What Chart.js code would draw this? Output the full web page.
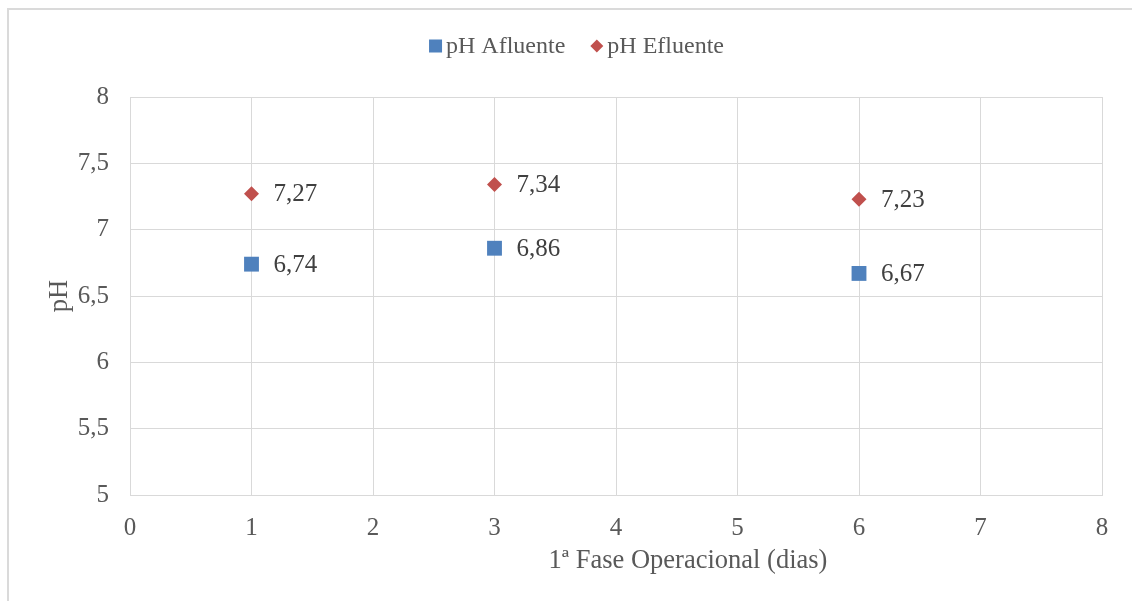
<!DOCTYPE html>
<html>
<head>
<meta charset="utf-8">
<script src="https://cdn.jsdelivr.net/npm/chart.js@4.4.1/dist/chart.umd.min.js"></script>
<style>
  html, body { margin: 0; padding: 0; background: #fff; }
  #wrap { width: 1132px; height: 601px; }
</style>
</head>
<body>
<div id="wrap"><canvas id="phChart" width="1132" height="601"></canvas></div>
<script>
// dias da 1ª fase operacional
var dias = [1, 3, 6];
var phAfluente = [6.74, 6.86, 6.67];
var phEfluente = [7.27, 7.34, 7.23];
var serieNomes = ['pH Afluente', 'pH Efluente'];
var tituloX = '1ª Fase Operacional (dias)';

var fonte = '"Liberation Serif", "Times New Roman", serif';
var cinzaTexto = '#595959';
var cinzaGrade = '#d9d9d9';

function virgula(v) {
    return String(v).replace('.', ',');
}

// moldura cinza do gráfico
var moldura = {
    id: 'moldura',
    beforeDraw: function (chart) {
        var c = chart.ctx;
        c.save();
        c.fillStyle = '#fff';
        c.fillRect(0, 0, chart.width, chart.height);
        c.strokeStyle = '#dadada';
        c.lineWidth = 2;
        c.strokeRect(8, 9, chart.width + 20, chart.height + 20);
        c.restore();
    }
};

// legenda no topo: marcador colado ao texto
var legenda = {
    id: 'legenda',
    afterDraw: function (chart) {
        var c = chart.ctx;
        var caixa = 13, folga = 4, entre = 25, yc = 46;
        c.save();
        c.font = '24px ' + fonte;
        c.textBaseline = 'middle';
        c.textAlign = 'left';
        var total = 0;
        chart.data.datasets.forEach(function (ds, i) {
            total += caixa + folga + c.measureText(ds.label).width;
            if (i > 0) total += entre;
        });
        var x = 576.5 - total / 2;
        chart.data.datasets.forEach(function (ds) {
            c.fillStyle = ds.backgroundColor;
            if (ds.pointStyle === 'rectRot') {
                c.beginPath();
                c.moveTo(x + caixa / 2, yc - caixa / 2);
                c.lineTo(x + caixa, yc);
                c.lineTo(x + caixa / 2, yc + caixa / 2);
                c.lineTo(x, yc);
                c.closePath();
                c.fill();
            } else {
                c.fillRect(x, yc - caixa / 2, caixa, caixa);
            }
            x += caixa + folga;
            c.fillStyle = cinzaTexto;
            c.fillText(ds.label, x, yc + 1);
            x += c.measureText(ds.label).width + entre;
        });
        c.restore();
    }
};

// título do eixo x e rótulos de valor à direita de cada ponto
var rotulos = {
    id: 'rotulos',
    afterDatasetsDraw: function (chart) {
        var c = chart.ctx;
        c.save();
        c.textBaseline = 'middle';
        c.font = '26.5px ' + fonte;
        c.fillStyle = cinzaTexto;
        c.textAlign = 'center';
        c.fillText(tituloX, 688, 561);

        c.font = '25px ' + fonte;
        c.fillStyle = '#404040';
        c.textAlign = 'left';
        chart.data.datasets.forEach(function (ds, i) {
            chart.getDatasetMeta(i).data.forEach(function (pt, j) {
                c.fillText(virgula(ds.data[j].y), pt.x + 22, pt.y + 1);
            });
        });
        c.restore();
    }
};

function pontos(valores) {
    return dias.map(function (d, i) { return { x: d, y: valores[i] }; });
}

var ctx = document.getElementById('phChart').getContext('2d');
var myChart = new Chart(ctx, {
    type: 'scatter',
    data: {
        datasets: [{
            label: serieNomes[0],
            data: pontos(phAfluente),
            pointStyle: 'rect',
            pointRadius: 10.5,
            pointHoverRadius: 10.5,
            backgroundColor: '#4f81bd',
            borderColor: '#4f81bd',
            borderWidth: 0
        }, {
            label: serieNomes[1],
            data: pontos(phEfluente),
            pointStyle: 'rectRot',
            pointRadius: 7.5,
            pointHoverRadius: 7.5,
            backgroundColor: '#c0504d',
            borderColor: '#c0504d',
            borderWidth: 0
        }]
    },
    options: {
        responsive: false,
        animation: false,
        layout: {
            padding: { left: 40, right: 30, top: 97, bottom: 20 }
        },
        plugins: {
            tooltip: { enabled: false },
            legend: { display: false }
        },
        scales: {
            x: {
                type: 'linear',
                min: 0,
                max: 8,
                ticks: {
                    stepSize: 1,
                    padding: 18,
                    color: cinzaTexto,
                    font: { family: fonte, size: 25 }
                },
                grid: { color: cinzaGrade, drawTicks: false },
                border: { color: cinzaGrade },
                afterFit: function (scale) { scale.height = 86; }
            },
            y: {
                min: 5,
                max: 8,
                ticks: {
                    stepSize: 0.5,
                    padding: 21,
                    color: cinzaTexto,
                    font: { family: fonte, size: 25 },
                    callback: function (v) { return virgula(v); }
                },
                grid: { color: cinzaGrade, drawTicks: false },
                border: { color: cinzaGrade },
                title: {
                    display: true,
                    text: 'pH',
                    color: cinzaTexto,
                    font: { family: fonte, size: 26.5 }
                },
                afterFit: function (scale) { scale.width = 90; }
            }
        }
    },
    plugins: [moldura, legenda, rotulos]
});
</script>
</body>
</html>
